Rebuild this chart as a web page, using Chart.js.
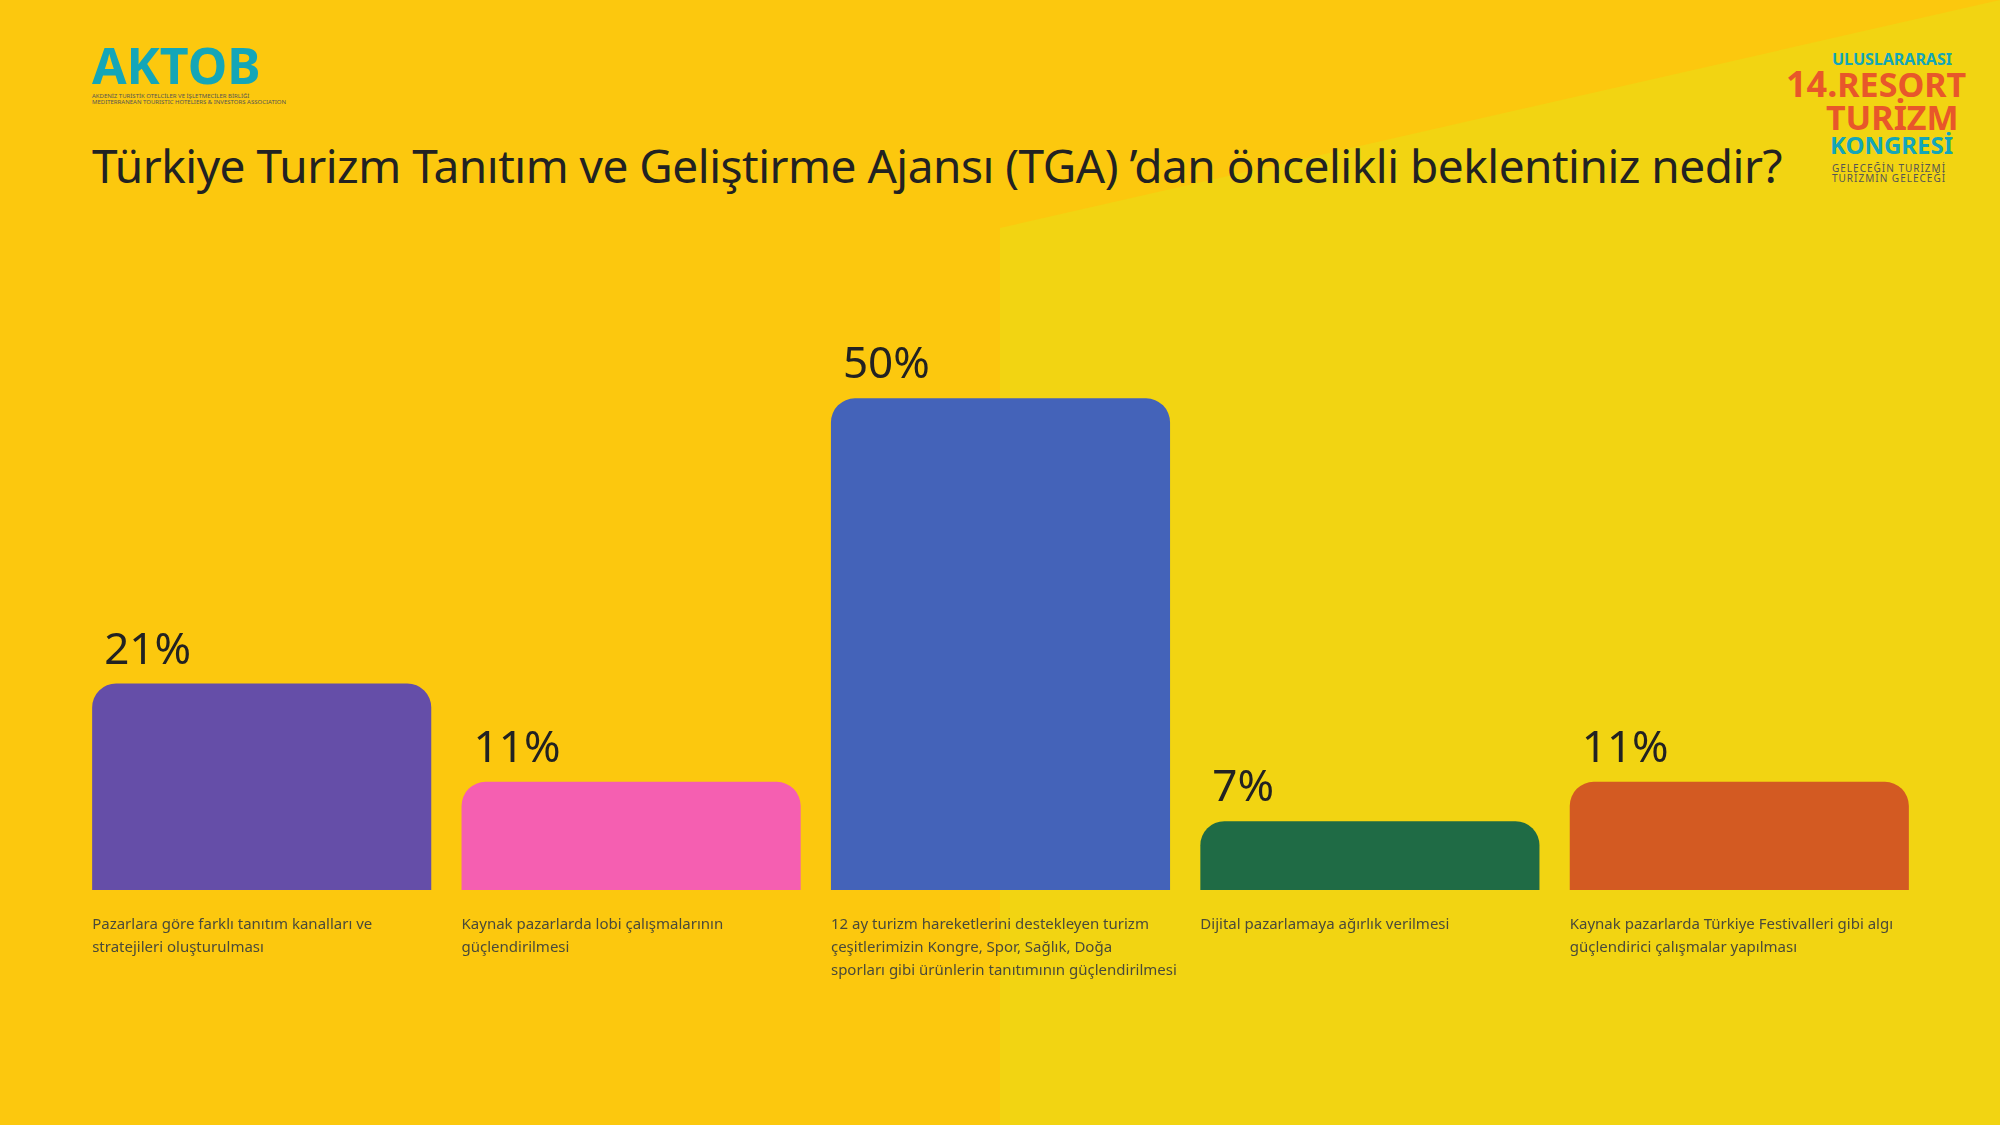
<!DOCTYPE html>
<html>
<head>
<meta charset="utf-8">
<script src="https://cdn.jsdelivr.net/npm/chart.js@4"></script>
<style>
  body { margin: 0; width: 2000px; height: 1125px; overflow: hidden; background: #FCC80E; font-family: "Noto Sans", sans-serif; position: relative; }
  #light { position: absolute; inset: 0; background: #F2D412; clip-path: polygon(1000px 228px, 2000px 0, 2000px 1125px, 1000px 1125px); }
  #title { position: absolute; left: 92px; top: 134px; font-size: 46px; color: #222; letter-spacing: -0.5px; }
  #aktob { position: absolute; left: 92px; top: 40px; color: #14A6B8; font-weight: 700; font-size: 50px; line-height: 1; }
  #aktob small { display: block; font-size: 6px; color: #555; font-weight: 400; margin-top: 3px; }
  #kongre { position: absolute; left: 1786px; top: 52px; font-weight: 700; line-height: 0.95; }
  #wrap { position: absolute; left: 77px; top: 300px; width: 1847px; height: 700px; }
</style>
</head>
<body>
<div id="light"></div>
<div id="aktob">AKTOB<small>AKDENİZ TURİSTİK OTELCİLER VE İŞLETMECİLER BİRLİĞİ<br>MEDITERRANEAN TOURISTIC HOTELIERS &amp; INVESTORS ASSOCIATION</small></div>
<div id="kongre">
  <div style="color:#14A6B8;font-size:16px;margin-left:46px">ULUSLARARASI</div>
  <div style="color:#E8572A;font-size:34px"><span style="font-size:36px">14.</span>RESORT</div>
  <div style="color:#E8572A;font-size:34px;margin-left:40px">TURİZM</div>
  <div style="color:#14A6B8;font-size:24px;margin-left:44px">KONGRESİ</div>
  <div style="color:#555;font-size:10px;margin-left:46px;margin-top:8px;font-weight:400;letter-spacing:1px">GELECEĞİN TURİZMİ<br>TURİZMİN GELECEĞİ</div>
</div>
<div id="title">Türkiye Turizm Tanıtım ve Geliştirme Ajansı (TGA) ’dan öncelikli beklentiniz nedir?</div>
<div id="wrap"><canvas id="c"></canvas></div>
<script>
const categories = [
  ['Pazarlara göre farklı tanıtım kanalları ve', 'stratejileri oluşturulması'],
  ['Kaynak pazarlarda lobi çalışmalarının', 'güçlendirilmesi'],
  ['12 ay turizm hareketlerini destekleyen turizm', 'çeşitlerimizin Kongre, Spor, Sağlık, Doğa', 'sporları gibi ürünlerin tanıtımının güçlendirilmesi'],
  ['Dijital pazarlamaya ağırlık verilmesi'],
  ['Kaynak pazarlarda Türkiye Festivalleri gibi algı', 'güçlendirici çalışmalar yapılması']
];
const values = [21, 11, 50, 7, 11];
const colors = ['#654EA8', '#F55FB1', '#4463B9', '#1F6B45', '#D35A22'];

const labelPlugin = {
  id: 'labels',
  afterDatasetsDraw(chart) {
    const ctx = chart.ctx;
    const meta = chart.getDatasetMeta(0);
    ctx.save();
    meta.data.forEach((bar, i) => {
      const left = bar.x - bar.width / 2;
      ctx.fillStyle = '#222';
      ctx.font = '44px "Noto Sans"';
      ctx.textBaseline = 'alphabetic';
      ctx.fillText(values[i] + '%', left + 12, bar.y - 20);
      ctx.fillStyle = '#4a4a3a';
      ctx.font = '15px "Noto Sans"';
      categories[i].forEach((line, j) => {
        ctx.fillText(line, left, chart.chartArea.bottom + 39 + j * 23);
      });
    });
    ctx.restore();
  }
};

new Chart(document.getElementById('c'), {
  type: 'bar',
  data: {
    labels: categories.map(c => c.join(' ')),
    datasets: [{
      data: values,
      backgroundColor: colors,
      borderRadius: { topLeft: 24, topRight: 24, bottomLeft: 0, bottomRight: 0 },
      borderSkipped: 'bottom',
      barPercentage: 0.918,
      categoryPercentage: 1
    }]
  },
  options: {
    responsive: true,
    maintainAspectRatio: false,
    animation: false,
    layout: { padding: { left: 0, right: 0, top: 0, bottom: 110 } },
    plugins: { legend: { display: false }, tooltip: { enabled: false } },
    scales: {
      x: { display: false },
      y: { display: false, min: 0, max: 60 }
    }
  },
  plugins: [labelPlugin]
});
</script>
</body>
</html>
